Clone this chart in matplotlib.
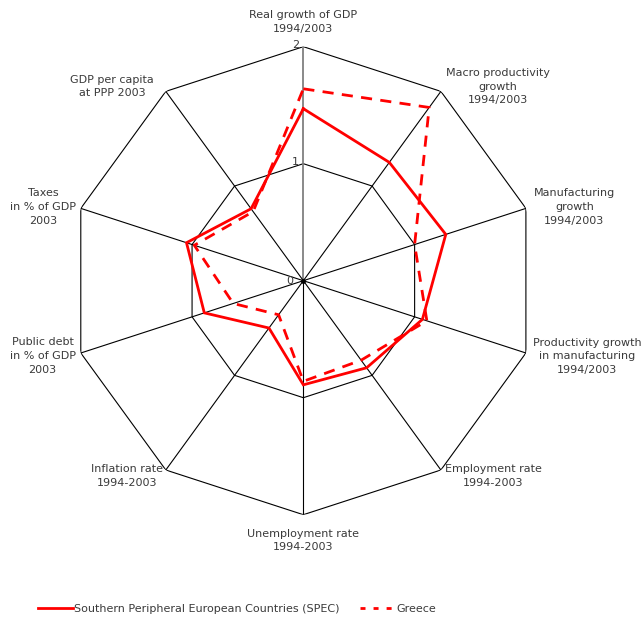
import numpy as np
import matplotlib
matplotlib.use('Agg')
import matplotlib.pyplot as plt
from matplotlib.lines import Line2D
from matplotlib import font_manager

# axes, clockwise from the top
categories = [
    "Real growth of GDP\n1994/2003",
    "Macro productivity\ngrowth\n1994/2003",
    "Manufacturing\ngrowth\n1994/2003",
    "Productivity growth\nin manufacturing\n1994/2003",
    "Employment rate\n1994-2003",
    "Unemployment rate\n1994-2003",
    "Inflation rate\n1994-2003",
    "Public debt\nin % of GDP\n2003",
    "Taxes\nin % of GDP\n2003",
    "GDP per capita\nat PPP 2003",
]
spec = [1.47, 1.25, 1.28, 1.07, 0.92, 0.89, 0.50, 0.89, 1.05, 0.76]
greece = [1.64, 1.83, 1.00, 1.11, 0.84, 0.86, 0.36, 0.63, 0.98, 0.73]
rings = [1, 2]
ring_labels = ["0", "1", "2"]

# where each label block sits (compass degrees, radius)
label_pos = [(0, 2.21), (45.1, 2.35), (74.8, 2.40), (104.9, 2.51), (135.8, 2.33),
             (180, 2.22), (222.1, 2.25), (253.9, 2.32), (285.8, 2.31), (315.4, 2.33)]

n = len(categories)
theta = np.arange(n) * 2 * np.pi / n
closed = np.append(theta, theta[0])

fig = plt.figure(figsize=(6.42, 6.21), dpi=100)
ax = fig.add_axes([0.108, 0.171, 0.729, 0.754], projection='polar')
ax.set_theta_zero_location('N')
ax.set_theta_direction(-1)
ax.set_ylim(0, 2)
ax.grid(False)
ax.spines['polar'].set_visible(False)
ax.set_xticks([])
ax.set_yticks([])
ax.patch.set_visible(False)

# decagon grid
for r in rings:
    ax.plot(closed, [r] * (n + 1), color='black', lw=0.8, zorder=1)
for i, t in enumerate(theta):
    if i == 0:
        ax.plot([t, t], [0, 2], color='#808080', lw=1.3, zorder=1)
    else:
        ax.plot([t, t], [0, 2], color='black', lw=0.8, zorder=1)
ax.plot([0], [0], 'o', color='black', ms=2.5, zorder=2)

ax.plot(closed, spec + spec[:1], color='#ff0000', lw=2.0, zorder=3,
        solid_joinstyle='miter')
ax.plot(closed, greece + greece[:1], color='#ff0000', lw=2.0, zorder=3,
        dashes=(4, 3))

txt = '#3a3a3a'
for lab, (deg, r) in zip(categories, label_pos):
    ax.text(np.deg2rad(deg), r, lab, ha='center', va='center', fontsize=8,
            color=txt, linespacing=1.45, clip_on=False)

offsets = [(-7, 0), (-3, 1), (-3, 1)]
for i, s in enumerate(ring_labels):
    ax.annotate(s, xy=(0, i), xytext=offsets[i], textcoords='offset points',
                ha='right', va='center', fontsize=8, color=txt)

# narrower face for the legend if there is one
names = {f.name for f in font_manager.fontManager.ttflist}
if 'Liberation Sans Narrow' in names:
    leg_font = dict(family='Liberation Sans Narrow', size=10.5)
    hl, cs = 2.4, 1.5
else:
    leg_font = dict(family='DejaVu Sans', size=8)
    hl, cs = 3.15, 1.9

handles = [Line2D([], [], color='#ff0000', lw=2.0),
           Line2D([], [], color='#ff0000', lw=2.0, dashes=(1.8, 2.9))]
fig.legend(handles, ["Southern Peripheral European Countries (SPEC)", "Greece"],
           loc='center', bbox_to_anchor=(0.369, 0.019), ncol=2, frameon=False,
           prop=leg_font, handlelength=hl, handletextpad=0.1, columnspacing=cs,
           labelcolor=txt)

fig.savefig('out.png', dpi=100)
